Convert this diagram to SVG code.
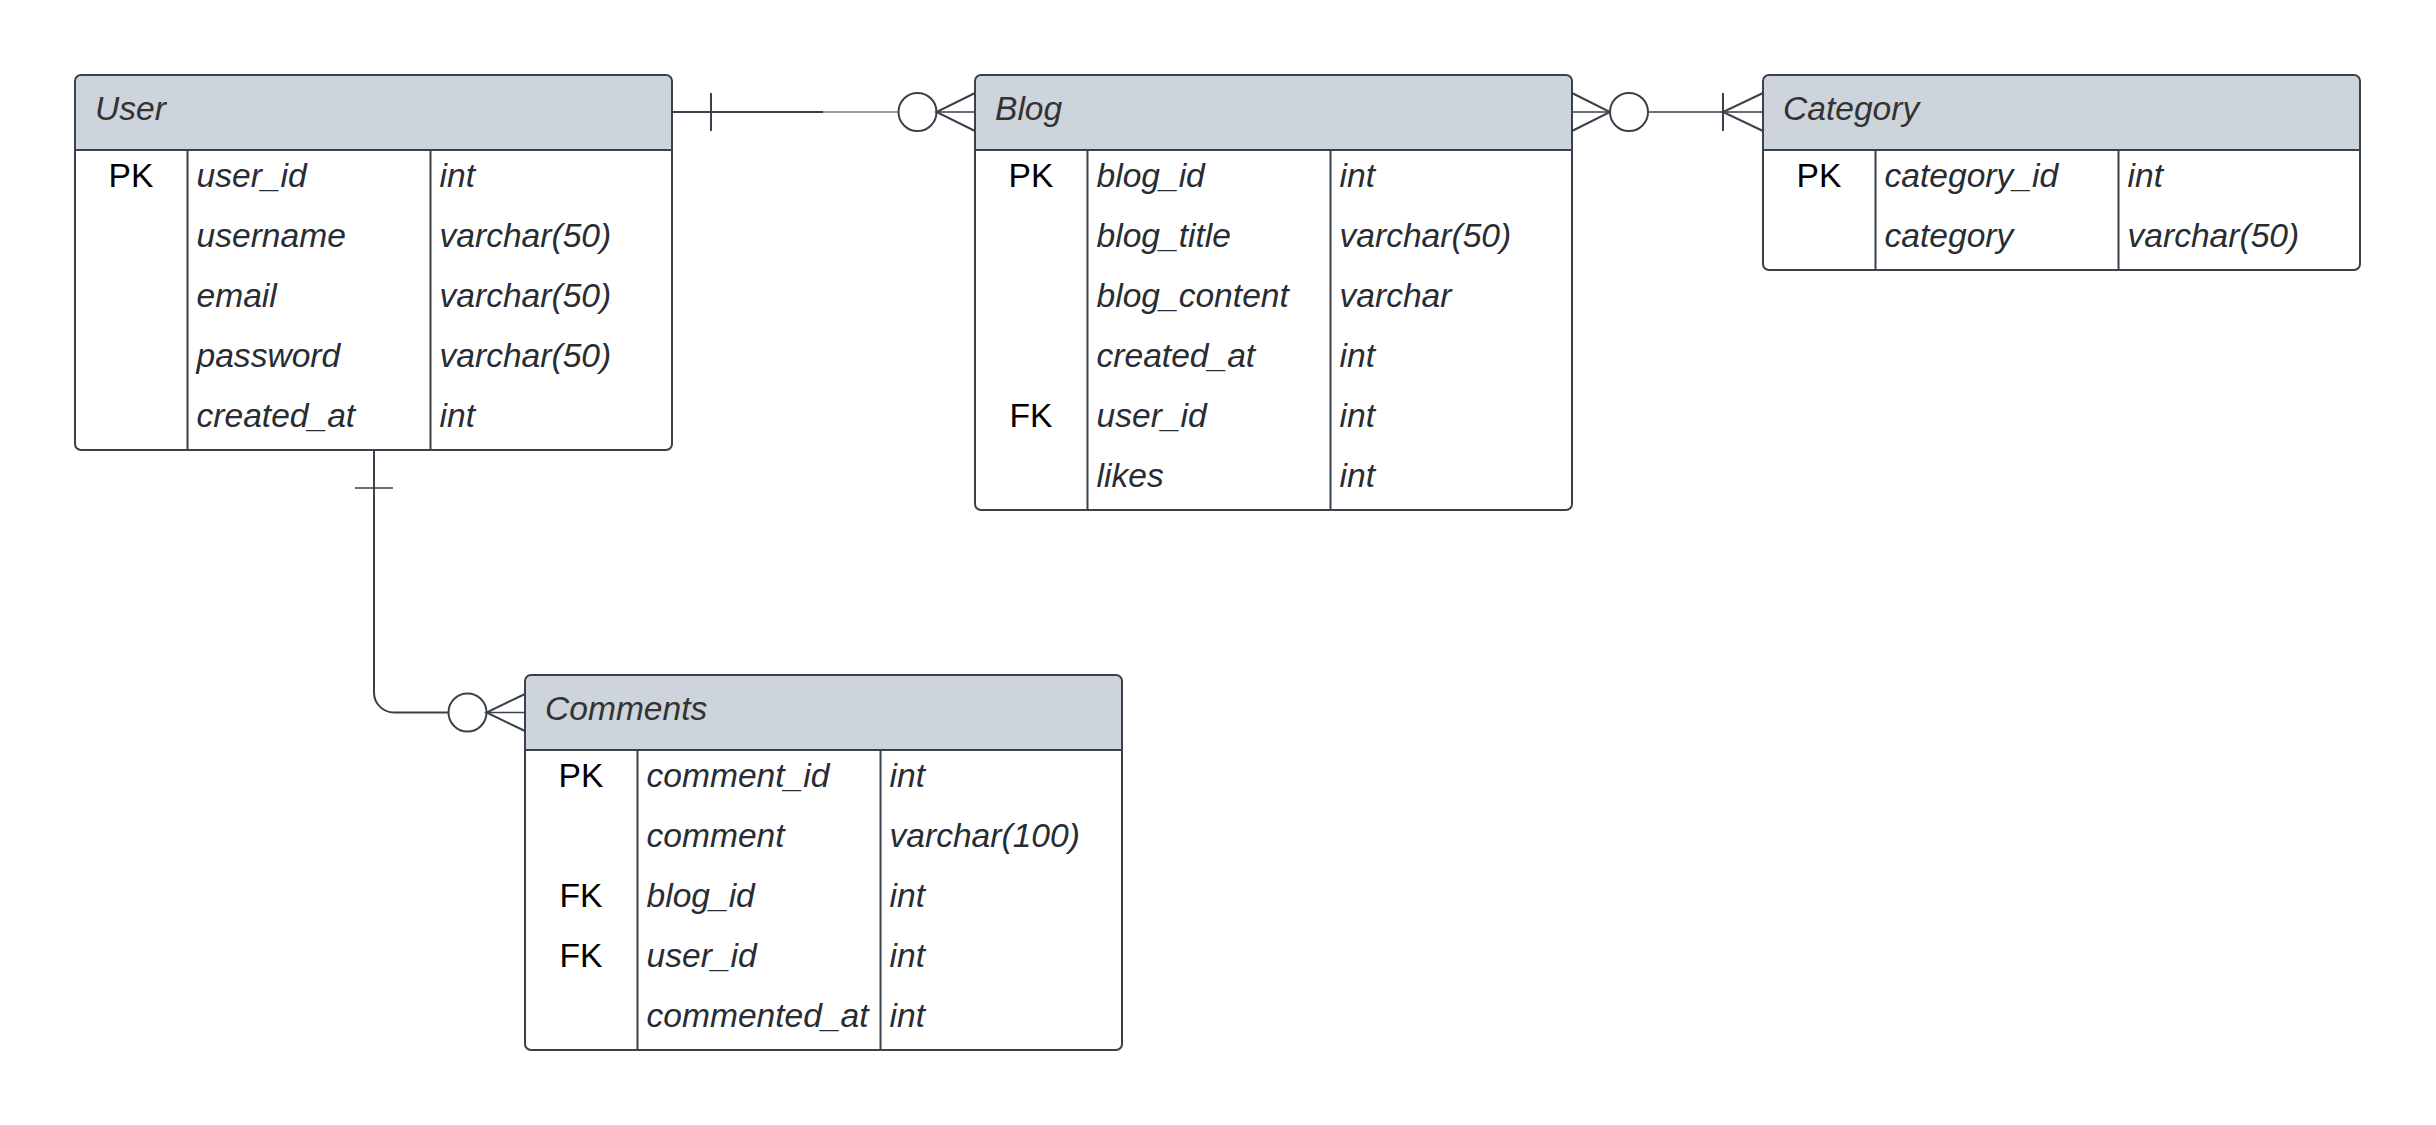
<svg xmlns="http://www.w3.org/2000/svg" width="2436" height="1125" viewBox="0 0 2436 1125">
  <style>
    .box { fill: #ffffff; stroke: none; }
    .hdr { fill: #ced4db; stroke: none; }
    .frame { fill: none; stroke: #3a414a; stroke-width: 2; }
    .grid { fill: none; stroke: #3a414a; stroke-width: 2; }
    .title { font-family: "Liberation Sans", Arial, sans-serif; font-size: 33.6px; font-style: italic; fill: #333333; }
    .key { font-family: "Liberation Sans", Arial, sans-serif; font-size: 33.6px; fill: #000000; text-anchor: middle; }
    .fld { font-family: "Liberation Sans", Arial, sans-serif; font-size: 33.6px; font-style: italic; fill: #282c33; }
    .rel { fill: none; stroke: #3a414a; stroke-width: 2; }
    .thin { fill: none; stroke: #3a414a; stroke-width: 1.5; }
    .faint { fill: none; stroke: #9aa0a8; stroke-width: 2; }
    .ring { fill: #ffffff; stroke: #3a414a; stroke-width: 2; }
  </style>
  <rect width="2436" height="1125" fill="#ffffff"/>

  <!-- relationships -->
  <g id="connectors">
    <!-- User 1 : 0..n Blog -->
    <path class="rel" d="M672 112 H823"/>
    <path class="faint" d="M823 112 H898"/>
    <path class="rel" d="M711 93 V131"/>
    <circle class="ring" cx="917.5" cy="112" r="19"/>
    <path class="rel" d="M975 93 L936.5 112 L975 131"/>
    <path class="thin" d="M936.5 112 H975"/>

    <!-- Blog 0..n : 1..n Category -->
    <path class="rel" d="M1572 93 L1610 112 L1572 131"/>
    <path class="thin" d="M1572 112 H1610"/>
    <circle class="ring" cx="1629" cy="112" r="19"/>
    <path class="thin" d="M1648 112 H1763"/>
    <path class="rel" d="M1723 93 V131"/>
    <path class="rel" d="M1763 93 L1723 112 L1763 131"/>

    <!-- User 1 : 0..n Comments -->
    <path class="rel" d="M374 450 V692.5 A20 20 0 0 0 394 712.5 H448.5"/>
    <path class="thin" d="M355 488 H393"/>
    <circle class="ring" cx="467.5" cy="712.5" r="19"/>
    <path class="rel" d="M525 694 L486.5 712.5 L525 731"/>
    <path class="thin" d="M486.5 712.5 H525"/>
  </g>

  <!-- User table -->
  <g id="user" transform="translate(75,75)">
    <rect class="box" x="0" y="0" width="597" height="375" rx="6"/>
    <path class="hdr" d="M0 75 V6 A6 6 0 0 1 6 0 H591 A6 6 0 0 1 597 6 V75 Z"/>
    <path class="grid" d="M0 75 H597 M112.5 75 V375 M355.5 75 V375"/>
    <rect class="frame" x="0" y="0" width="597" height="375" rx="6"/>
    <text class="title" x="20" y="45">User</text>
    <text class="key" x="56" y="112">PK</text>
    <text class="fld" x="121.5" y="112">user_id</text>
    <text class="fld" x="364.5" y="112">int</text>
    <text class="fld" x="121.5" y="172">username</text>
    <text class="fld" x="364.5" y="172">varchar(50)</text>
    <text class="fld" x="121.5" y="232">email</text>
    <text class="fld" x="364.5" y="232">varchar(50)</text>
    <text class="fld" x="121.5" y="292">password</text>
    <text class="fld" x="364.5" y="292">varchar(50)</text>
    <text class="fld" x="121.5" y="352">created_at</text>
    <text class="fld" x="364.5" y="352">int</text>
  </g>

  <!-- Blog table -->
  <g id="blog" transform="translate(975,75)">
    <rect class="box" x="0" y="0" width="597" height="435" rx="6"/>
    <path class="hdr" d="M0 75 V6 A6 6 0 0 1 6 0 H591 A6 6 0 0 1 597 6 V75 Z"/>
    <path class="grid" d="M0 75 H597 M112.5 75 V435 M355.5 75 V435"/>
    <rect class="frame" x="0" y="0" width="597" height="435" rx="6"/>
    <text class="title" x="20" y="45">Blog</text>
    <text class="key" x="56" y="112">PK</text>
    <text class="fld" x="121.5" y="112">blog_id</text>
    <text class="fld" x="364.5" y="112">int</text>
    <text class="fld" x="121.5" y="172">blog_title</text>
    <text class="fld" x="364.5" y="172">varchar(50)</text>
    <text class="fld" x="121.5" y="232">blog_content</text>
    <text class="fld" x="364.5" y="232">varchar</text>
    <text class="fld" x="121.5" y="292">created_at</text>
    <text class="fld" x="364.5" y="292">int</text>
    <text class="key" x="56" y="352">FK</text>
    <text class="fld" x="121.5" y="352">user_id</text>
    <text class="fld" x="364.5" y="352">int</text>
    <text class="fld" x="121.5" y="412">likes</text>
    <text class="fld" x="364.5" y="412">int</text>
  </g>

  <!-- Category table -->
  <g id="category" transform="translate(1763,75)">
    <rect class="box" x="0" y="0" width="597" height="195" rx="6"/>
    <path class="hdr" d="M0 75 V6 A6 6 0 0 1 6 0 H591 A6 6 0 0 1 597 6 V75 Z"/>
    <path class="grid" d="M0 75 H597 M112.5 75 V195 M355.5 75 V195"/>
    <rect class="frame" x="0" y="0" width="597" height="195" rx="6"/>
    <text class="title" x="20" y="45">Category</text>
    <text class="key" x="56" y="112">PK</text>
    <text class="fld" x="121.5" y="112">category_id</text>
    <text class="fld" x="364.5" y="112">int</text>
    <text class="fld" x="121.5" y="172">category</text>
    <text class="fld" x="364.5" y="172">varchar(50)</text>
  </g>

  <!-- Comments table -->
  <g id="comments" transform="translate(525,675)">
    <rect class="box" x="0" y="0" width="597" height="375" rx="6"/>
    <path class="hdr" d="M0 75 V6 A6 6 0 0 1 6 0 H591 A6 6 0 0 1 597 6 V75 Z"/>
    <path class="grid" d="M0 75 H597 M112.5 75 V375 M355.5 75 V375"/>
    <rect class="frame" x="0" y="0" width="597" height="375" rx="6"/>
    <text class="title" x="20" y="45">Comments</text>
    <text class="key" x="56" y="112">PK</text>
    <text class="fld" x="121.5" y="112">comment_id</text>
    <text class="fld" x="364.5" y="112">int</text>
    <text class="fld" x="121.5" y="172">comment</text>
    <text class="fld" x="364.5" y="172">varchar(100)</text>
    <text class="key" x="56" y="232">FK</text>
    <text class="fld" x="121.5" y="232">blog_id</text>
    <text class="fld" x="364.5" y="232">int</text>
    <text class="key" x="56" y="292">FK</text>
    <text class="fld" x="121.5" y="292">user_id</text>
    <text class="fld" x="364.5" y="292">int</text>
    <text class="fld" x="121.5" y="352">commented_at</text>
    <text class="fld" x="364.5" y="352">int</text>
  </g>
</svg>
